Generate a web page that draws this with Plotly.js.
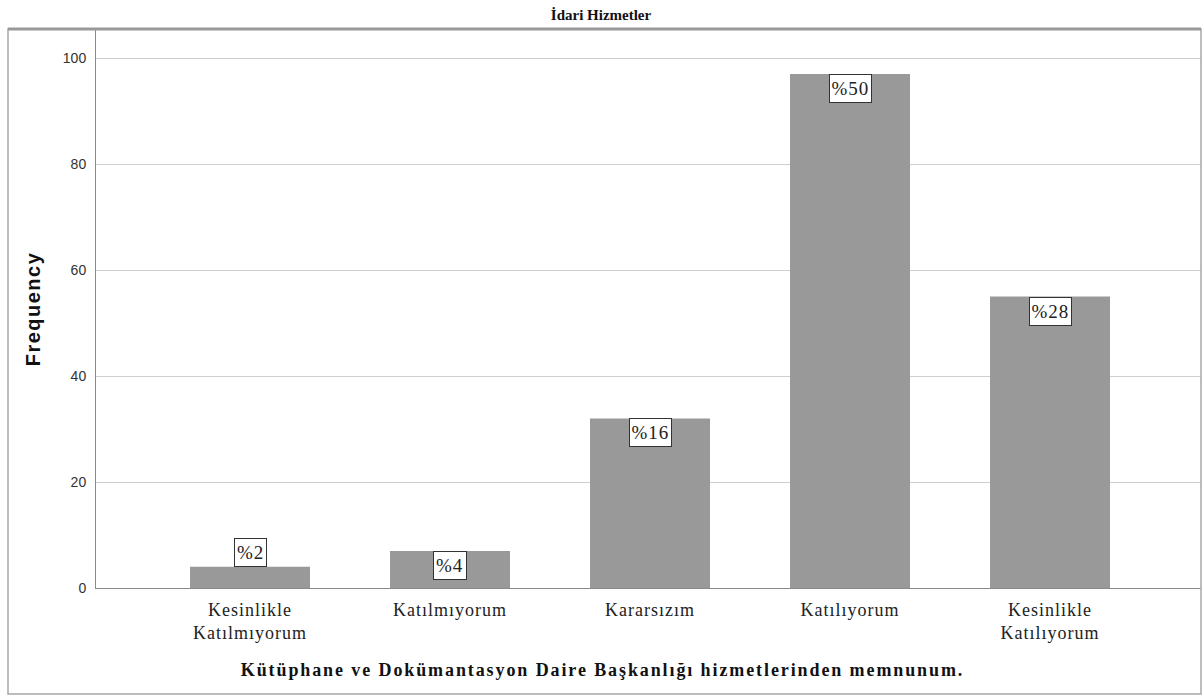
<!DOCTYPE html>
<html><head><meta charset="utf-8">
<script src="https://cdn.plot.ly/plotly-3.0.1.min.js"></script>
<style>
body{margin:0;background:#fff}#c{width:1202px;height:698px}
#c .xtick text{letter-spacing:1px}
#c text.xtitle{letter-spacing:1.9px;transform:translateX(-46px)}
#c text.ytitle{letter-spacing:1.5px}
#c .annotation-text-g text{letter-spacing:1px}
</style>
</head><body><div id="c"></div>
<script>
const categories = ["Kesinlikle<br>Katılmıyorum", "Katılmıyorum", "Kararsızım", "Katılıyorum", "Kesinlikle<br>Katılıyorum"];
const frequencies = [4, 7, 32, 97, 55];
const percentLabels = ["%2", "%4", "%16", "%50", "%28"];
const yTicks = [0, 20, 40, 60, 80, 100];

const serif = "Liberation Serif, Times New Roman, serif";
const sans = "Liberation Sans, Arial, sans-serif";

const annotations = categories.map((c, i) => ({
  x: c, y: frequencies[i], xref: 'x', yref: 'y',
  text: percentLabels[i], showarrow: false,
  yanchor: frequencies[i] < 6 ? 'bottom' : 'top',
  font: {family: serif, size: 19, color: '#222'},
  bgcolor: '#fff', bordercolor: '#333', borderwidth: 1, borderpad: 3
}));

const layout = {
  width: 1202, height: 698,
  margin: {l: 96, r: 1, t: 30, b: 110},
  paper_bgcolor: '#fff', plot_bgcolor: '#fff',
  showlegend: false, bargap: 0.4,
  title: {text: 'İdari Hizmetler', font: {family: serif, size: 15, color: '#111', weight: 'bold'},
          x: 0.5, xref: 'container', y: 0.979, yref: 'container', yanchor: 'middle'},
  xaxis: {
    type: 'category', categoryorder: 'array', categoryarray: categories,
    range: [-0.77, 4.755], showgrid: false, zeroline: false,
    showline: true, linecolor: '#8a8a8a', linewidth: 1,
    ticks: '', ticklabelstandoff: 5,
    tickfont: {family: serif, size: 18, color: '#222'},
    title: {text: 'Kütüphane ve Dokümantasyon Daire Başkanlığı hizmetlerinden memnunum.',
            font: {family: serif, size: 18, color: '#111', weight: 'bold'}, standoff: 21}
  },
  yaxis: {
    range: [0, 105.3], tickvals: yTicks, ticktext: yTicks.map(String),
    showgrid: true, gridcolor: '#cfcfcf', gridwidth: 1, zeroline: false,
    showline: true, linecolor: '#8a8a8a', linewidth: 1,
    ticks: '', ticklabelstandoff: 6,
    tickfont: {family: sans, size: 14, color: '#333'},
    title: {text: 'Frequency', font: {family: sans, size: 20, color: '#111', weight: 'bold'}, standoff: 16}
  },
  annotations: annotations,
  shapes: [
    {type: 'rect', xref: 'paper', yref: 'paper', x0: -88/1105, x1: 1, y0: -106/558, y1: 1.002,
     line: {color: '#a8a8a8', width: 1.5}, fillcolor: 'rgba(0,0,0,0)'},
    {type: 'line', xref: 'paper', yref: 'paper', x0: -88/1105, x1: 1, y0: 1.002, y1: 1.002,
     line: {color: '#999', width: 3}}
  ]
};

Plotly.newPlot('c', [{
  type: 'bar', x: categories, y: frequencies,
  marker: {color: '#999999', line: {width: 0}},
  hoverinfo: 'skip'
}], layout, {displayModeBar: false, staticPlot: true});
</script></body></html>
